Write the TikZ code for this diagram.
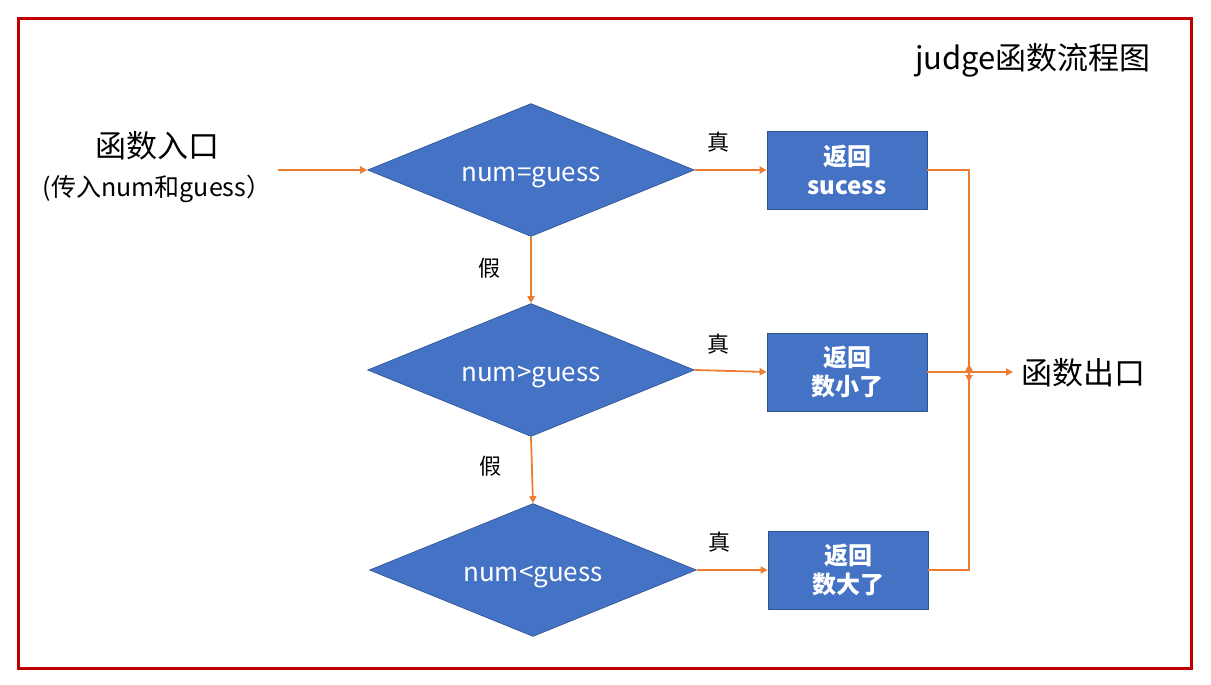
\documentclass[tikz,border=0pt]{standalone}
\usepackage{fontspec}
\setmainfont{Noto Sans CJK SC}
\usetikzlibrary{shapes.geometric,arrows.meta}
\definecolor{dblue}{HTML}{4472C4}
\definecolor{dborder}{HTML}{2F528F}
\definecolor{orng}{HTML}{ED7D31}
\definecolor{frame}{HTML}{C00000}
\begin{document}
\begin{tikzpicture}[x=1pt,y=-1pt,
  dec/.style={diamond,fill=dblue,draw=dborder,line width=0.6pt,minimum width=327pt,minimum height=133pt,inner sep=0pt,aspect=2.46,text=white,text height=22pt,text depth=0pt,font=\fontsize{26}{30}\selectfont},
  retbox/.style={rectangle,fill=dblue,draw=dborder,line width=0.8pt,minimum width=160pt,minimum height=78pt,inner sep=0pt,text=white,align=center,font=\fontsize{24}{29}\selectfont\bfseries},
  flow/.style={draw=orng,line width=1.8pt,-{Triangle[length=7pt,width=7pt]}},
  lbl/.style={font=\fontsize{22}{26}\selectfont,inner sep=0pt},
  big/.style={font=\fontsize{31}{36}\selectfont,inner sep=0pt}]
\useasboundingbox (0,0) rectangle (1211,685);
\draw[frame,line width=3pt] (18,19) rectangle (1191,668);
\node[big,anchor=east] (title) at (1151,60) {judge函数流程图};
\node[big] (in) at (157,146) {函数入口};
\node[font=\fontsize{25}{30}\selectfont,inner sep=0pt] (inp) at (157,189) {(传入num和guess）};
\coordinate (start) at (278,170);
\node[dec] (d1) at (531,170) {num=guess};
\node[dec] (d2) at (531,370) {num>guess};
\node[dec] (d3) at (533,570) {num<guess};
\node[retbox] (b1) at (847,170) {返回\\sucess};
\node[retbox] (b2) at (847,372) {返回\\数小了};
\node[retbox] (b3) at (848,570) {返回\\数大了};
\node[big] (out) at (1083,373) {函数出口};
\coordinate (j) at (969,372);
\coordinate (outin) at (1013,372);
\node[lbl] (t1) at (718,142) {真};
\node[lbl] (t2) at (718,344) {真};
\node[lbl] (t3) at (719,542) {真};
\node[lbl] (f1) at (489,268) {假};
\node[lbl] (f2) at (490,466) {假};
\draw[flow] (start) -- (d1.west);
\draw[flow] (d1.east) -- (b1.west);
\draw[flow] (d2.east) -- (b2.west);
\draw[flow] (d3.east) -- (b3.west);
\draw[flow] (d1.south) -- (d2.north);
\draw[flow] (d2.south) -- (d3.north);
\draw[flow] (b1.east) -| ([yshift=-10pt]j);
\draw[flow] (b3.east) -| ([yshift=8pt]j);
\draw[flow] (b2.east) -- (outin);
\end{tikzpicture}
\end{document}
